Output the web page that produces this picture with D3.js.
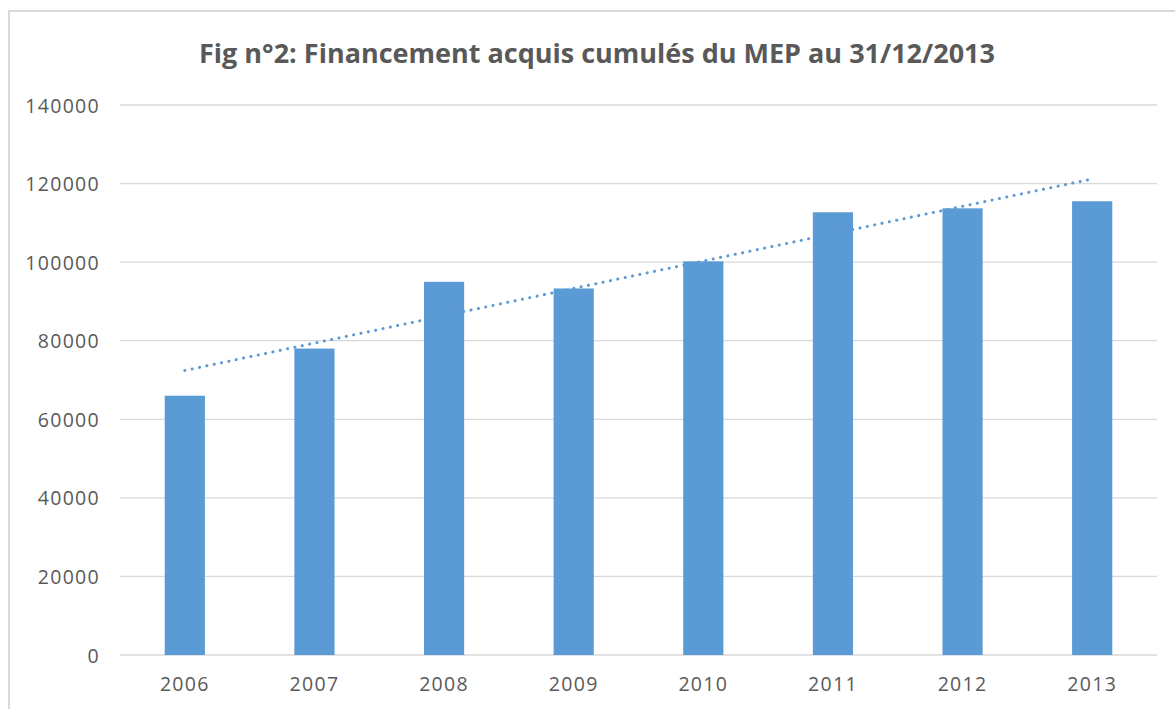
<!DOCTYPE html>
<html><head><meta charset="utf-8">
<script src="https://cdn.jsdelivr.net/npm/d3@7"></script>
<style>body{margin:0;background:#fff}svg{display:block}</style>
</head><body>
<svg id="c" width="1175" height="709"></svg>
<script>
const categories = ["2006","2007","2008","2009","2010","2011","2012","2013"];
const values = [66000, 78000, 95000, 93300, 100200, 112700, 113700, 115500];
const yTicks = [0,20000,40000,60000,80000,100000,120000,140000];
const title = "Fig n°2: Financement acquis cumulés du MEP au 31/12/2013";

const svg = d3.select("#c");
const m = {left:120, right:1157, top:105, bottom:655};
const font = "'Open Sans', 'Liberation Sans', sans-serif";
const txt = "#595959";

// frame
svg.append("rect").attr("x",9).attr("y",11).attr("width",1200).attr("height",720)
  .attr("fill","none").attr("stroke","#d9d9d9").attr("stroke-width",2);

const x = d3.scaleBand().domain(categories).range([m.left, m.right]).paddingInner(0.69).paddingOuter(0.345);
const y = d3.scaleLinear().domain([0,140000]).range([m.bottom, m.top]);

// gridlines
svg.append("g").selectAll("line").data(yTicks).join("line")
  .attr("x1", m.left).attr("x2", m.right)
  .attr("y1", d=>y(d)).attr("y2", d=>y(d))
  .attr("stroke","#d9d9d9").attr("stroke-width",1.3);

// y axis labels
const ya = svg.append("g").attr("transform",`translate(${100},0)`)
  .call(d3.axisLeft(y).tickValues(yTicks).tickSize(0).tickPadding(0).tickFormat(d3.format("d")));
ya.select(".domain").remove();
ya.selectAll("text").attr("font-family",font).attr("font-size",19.5).attr("letter-spacing","1.3px")
  .attr("fill",txt).attr("dy","0.36em");

// x axis labels
const xa = svg.append("g").attr("transform",`translate(0,${m.bottom})`)
  .call(d3.axisBottom(x).tickSize(0).tickPadding(23));
xa.select(".domain").remove();
xa.selectAll("text").attr("font-family",font).attr("font-size",19.5).attr("letter-spacing","1.3px")
  .attr("fill",txt).attr("dy","0.65em");

// bars
svg.append("g").selectAll("rect").data(values).join("rect")
  .attr("x",(d,i)=>x(categories[i])).attr("width",x.bandwidth())
  .attr("y",d=>y(d)).attr("height",d=>m.bottom-y(d))
  .attr("fill","#5b9bd5");

// linear trendline (least squares over data)
const n = values.length, xs = d3.range(1,n+1);
const mx = d3.mean(xs), my = d3.mean(values);
const slope = d3.sum(xs.map((xi,i)=>(xi-mx)*(values[i]-my))) / d3.sum(xs.map(xi=>(xi-mx)**2));
const icpt = my - slope*mx;
const trend = [xs[0], xs[n-1]].map(xi=>({cat:categories[xi-1], v:icpt+slope*xi}));
svg.append("path")
  .attr("d", d3.line().x(d=>x(d.cat)+x.bandwidth()/2).y(d=>y(d.v))(trend))
  .attr("fill","none").attr("stroke","#5b9bd5").attr("stroke-width",3)
  .attr("stroke-linecap","round").attr("stroke-dasharray","0.1 7.4");

// title
svg.append("text").attr("x",597).attr("y",63).attr("text-anchor","middle")
  .attr("font-family",font).attr("font-weight","bold").attr("font-size",27)
  .attr("fill",txt).text(title);
</script>
</body></html>
